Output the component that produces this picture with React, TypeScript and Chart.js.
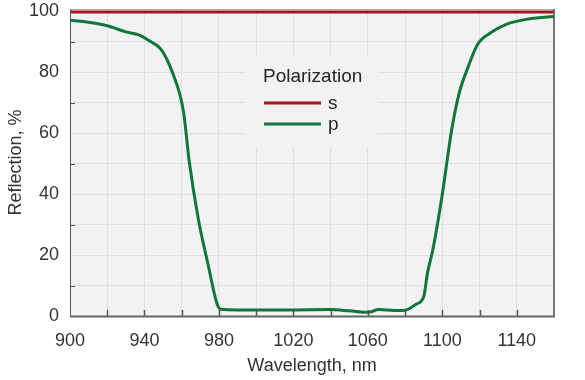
import React, { useEffect, useRef } from "react";
import { Chart, registerables } from "chart.js";

Chart.register(...registerables);

const wavelengths = [900, 908, 920, 930, 937, 943, 949, 955, 961, 964, 969, 974, 979, 981, 990, 1000, 1020, 1040, 1050, 1060, 1066, 1074, 1080, 1086, 1090, 1092, 1095, 1100, 1105, 1109, 1114, 1119, 1126, 1134, 1145, 1160];
const pValues = [97.1, 96.6, 95.3, 93.3, 92.3, 90.2, 87.5, 80, 67, 51, 31.6, 17.4, 4, 2.2, 2.0, 2.0, 2.0, 2.1, 1.7, 1.2, 2.1, 1.8, 1.9, 3.9, 6.3, 14, 22, 40, 61, 73, 82, 89.2, 93, 95.7, 97.4, 98.3];
const sWavelengths = [900, 1160];
const sValues = [99.8, 99.8];
const xLabelTicks = [900, 940, 980, 1020, 1060, 1100, 1140];
const yLabelTicks = [0, 20, 40, 60, 80, 100];
const legendTitle = "Polarization";
const seriesNames = ["s", "p"];
const RED = "#a3161c";
const GREEN = "#10763a";
const FONT = "'Liberation Sans', Arial, sans-serif";

export default function App() {
  const ref = useRef<HTMLCanvasElement | null>(null);
  useEffect(() => {
    const canvas = ref.current;
    if (!canvas) return;
    const frame = {
      id: "frame",
      beforeDraw(chart: any) {
        const { ctx, chartArea: a } = chart;
        ctx.save();
        ctx.fillStyle = "#ffffff";
        ctx.fillRect(0, 0, chart.width, chart.height);
        ctx.fillStyle = "#f2f2f2";
        ctx.fillRect(a.left, a.top, a.right - a.left, a.bottom - a.top);
        ctx.restore();
      },
      beforeDatasetsDraw(chart: any) {
        const { ctx, chartArea: a } = chart;
        const bx = a.left + 175, by = a.top + 48;
        ctx.save();
        ctx.fillStyle = "#f2f2f2";
        ctx.fillRect(bx, by, 133, 90);
        ctx.fillStyle = "#262626";
        ctx.font = `19px ${FONT}`;
        ctx.textBaseline = "middle";
        ctx.textAlign = "left";
        ctx.fillText(legendTitle, bx + 18, by + 20);
        const colors = [RED, GREEN];
        seriesNames.forEach((n, i) => {
          const yy = by + 46 + i * 21;
          ctx.strokeStyle = colors[i];
          ctx.lineWidth = 3;
          ctx.beginPath();
          ctx.moveTo(bx + 19, yy);
          ctx.lineTo(bx + 76, yy);
          ctx.stroke();
          ctx.fillStyle = "#262626";
          ctx.font = `19px ${FONT}`;
          ctx.fillText(n, bx + 83, yy + 1);
        });
        ctx.restore();
      },
      afterDraw(chart: any) {
        const { ctx, chartArea: a, scales } = chart;
        ctx.save();
        ctx.strokeStyle = "#b4b4b4";
        ctx.lineWidth = 1;
        ctx.beginPath();
        ctx.moveTo(a.left, a.top + 0.5);
        ctx.lineTo(a.right, a.top + 0.5);
        ctx.stroke();
        ctx.strokeStyle = "#555555";
        ctx.beginPath();
        ctx.moveTo(a.left + 0.5, a.top);
        ctx.lineTo(a.left + 0.5, a.bottom);
        ctx.stroke();
        ctx.lineWidth = 1.5;
        ctx.beginPath();
        ctx.moveTo(a.right, a.top);
        ctx.lineTo(a.right, a.bottom);
        ctx.stroke();
        ctx.lineWidth = 1;
        for (let v = 10; v < 100; v += 20) {
          const y = Math.round(scales.y.getPixelForValue(v)) + 0.5;
          ctx.beginPath();
          ctx.moveTo(a.left, y);
          ctx.lineTo(a.left + 5, y);
          ctx.stroke();
        }
        ctx.lineWidth = 1.5;
        for (let v = 920; v < 1160; v += 20) {
          const x = Math.round(scales.x.getPixelForValue(v)) + 0.5;
          ctx.beginPath();
          ctx.moveTo(x, a.bottom);
          ctx.lineTo(x, a.bottom - 6);
          ctx.stroke();
        }
        ctx.strokeStyle = "#666666";
        ctx.lineWidth = 2;
        ctx.beginPath();
        ctx.moveTo(a.left, a.bottom + 0.5);
        ctx.lineTo(a.right + 1, a.bottom + 0.5);
        ctx.stroke();
        ctx.restore();
      },
    };
    const chart = new Chart(canvas, {
      type: "line",
      data: {
        datasets: [
          {
            label: seriesNames[0],
            data: sWavelengths.map((x, i) => ({ x, y: sValues[i] })),
            borderColor: RED,
            borderWidth: 3,
            pointRadius: 0,
          },
          {
            label: seriesNames[1],
            data: wavelengths.map((x, i) => ({ x, y: pValues[i] })),
            borderColor: GREEN,
            borderWidth: 3,
            pointRadius: 0,
            cubicInterpolationMode: "monotone",
          },
        ],
      },
      options: {
        animation: false,
        responsive: false,
        layout: { padding: { left: 0, right: 31, top: 9, bottom: 0 } },
        plugins: { legend: { display: false }, tooltip: { enabled: false } },
        scales: {
          x: {
            type: "linear",
            min: 900,
            max: 1160,
            afterBuildTicks(scale: any) {
              const t = [];
              for (let v = 900; v <= 1160; v += 20) t.push({ value: v });
              scale.ticks = t;
            },
            afterFit(scale: any) {
              scale.height = 64;
              scale.paddingLeft = 0;
              scale.paddingRight = 0;
            },
            border: { display: false },
            grid: { color: "#e0e0e0", lineWidth: 1, drawTicks: false },
            ticks: {
              autoSkip: false,
              maxRotation: 0,
              padding: 14,
              color: "#333333",
              font: { family: FONT, size: 18 },
              callback: (v: any) => (xLabelTicks.includes(Number(v)) ? String(v) : ""),
            },
            title: {
              display: true,
              text: "Wavelength, nm",
              color: "#333333",
              font: { family: FONT, size: 18 },
              padding: { top: 0, bottom: 3 },
            },
          },
          y: {
            min: 0,
            max: 100.8,
            afterBuildTicks(scale: any) {
              const t = [];
              for (let v = 0; v <= 100; v += 10) t.push({ value: v });
              scale.ticks = t;
            },
            afterFit(scale: any) {
              scale.width = 70;
              scale.paddingTop = 0;
              scale.paddingBottom = 0;
            },
            border: { display: false },
            grid: { color: "#e0e0e0", lineWidth: 1, drawTicks: false },
            ticks: {
              autoSkip: false,
              padding: 11,
              color: "#333333",
              font: { family: FONT, size: 18 },
              callback: (v: any) => (yLabelTicks.includes(Number(v)) ? String(v) : ""),
            },
            title: {
              display: true,
              text: "Reflection, %",
              color: "#333333",
              font: { family: FONT, size: 18 },
              padding: { top: 5, bottom: 0 },
            },
          },
        },
      },
      plugins: [frame],
    } as any);
    return () => chart.destroy();
  }, []);
  return (
    <div style={{ position: "fixed", left: 0, top: 0, width: 585, height: 380 }}>
      <canvas ref={ref} width={585} height={380} style={{ display: "block" }} />
    </div>
  );
}
